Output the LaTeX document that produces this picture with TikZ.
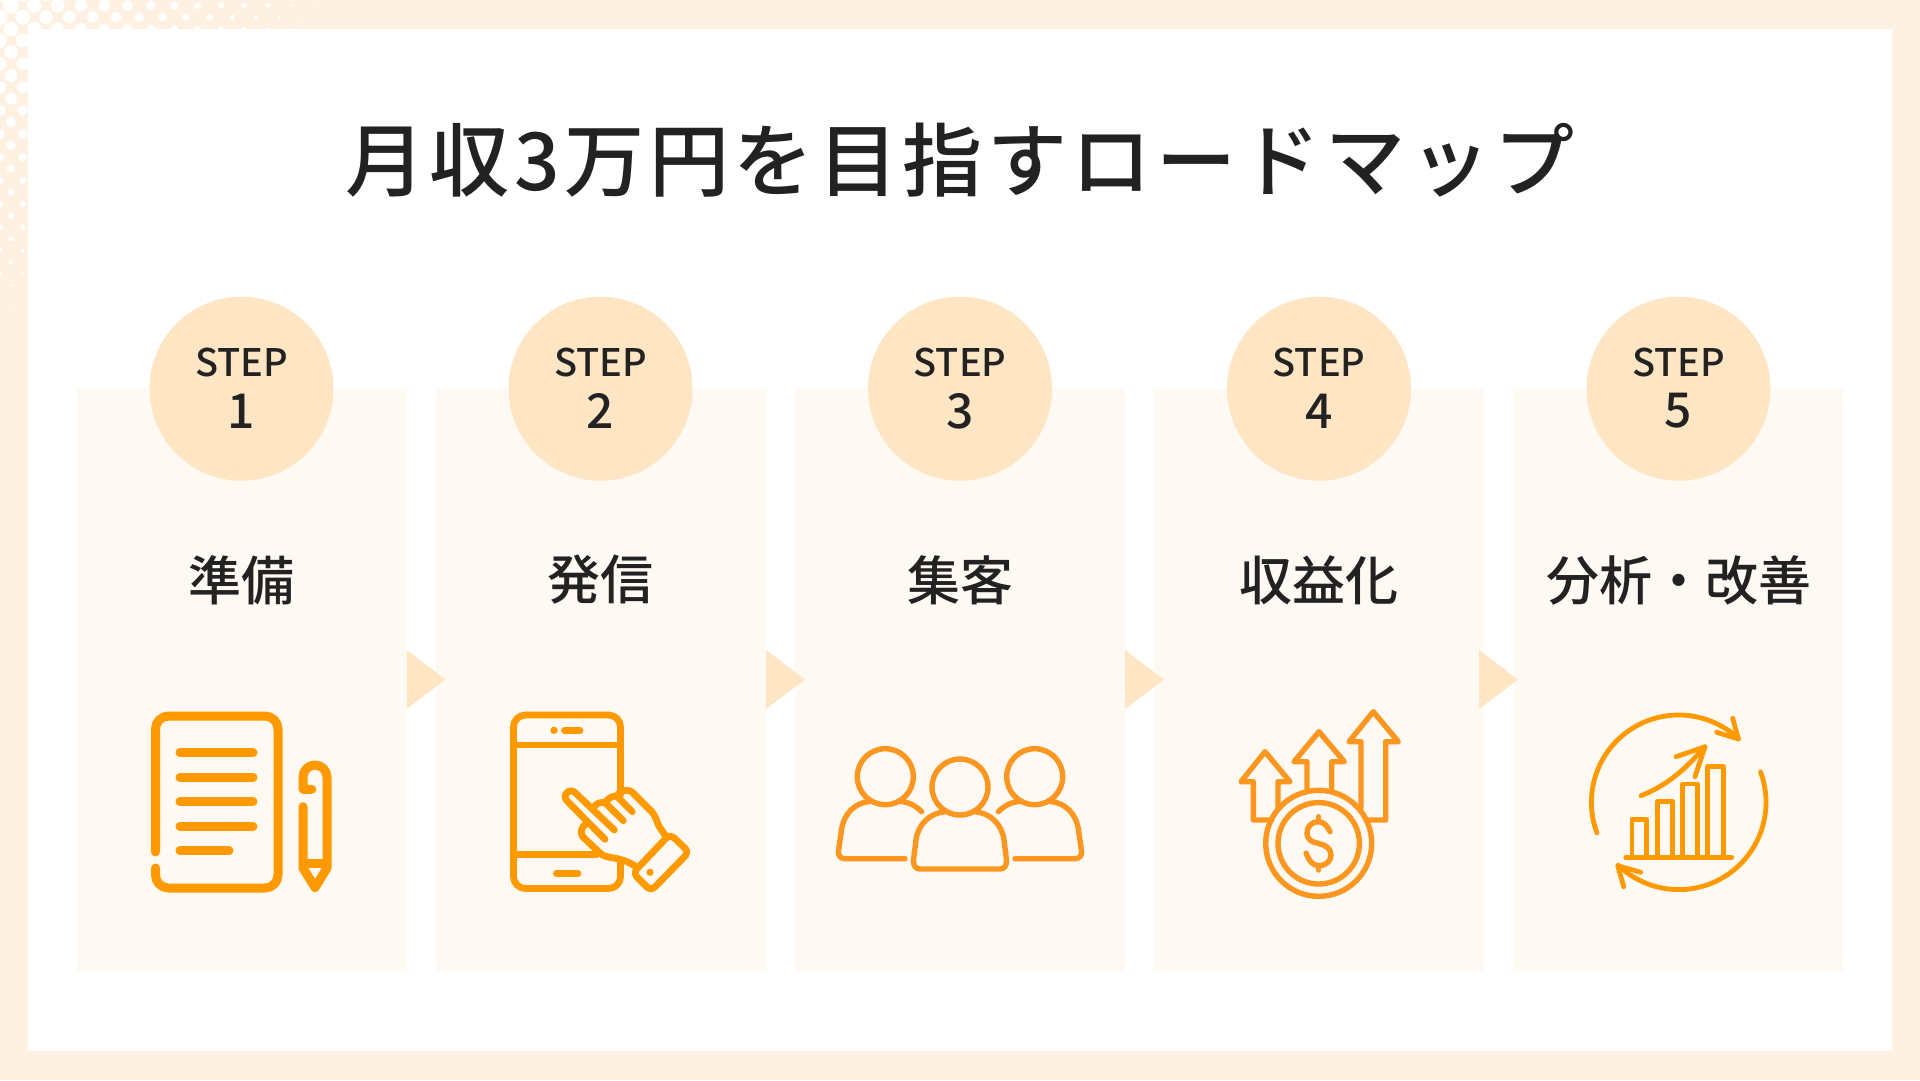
\documentclass[tikz,border=0pt]{standalone}
\usepackage{fontspec}
\newfontfamily\jpmed{Noto Sans CJK JP Medium}
\newfontfamily\jptitle[LetterSpace=5.7]{Noto Sans CJK JP Medium}
\definecolor{edgefill}{HTML}{FEF1E2}
\definecolor{panelfill}{HTML}{FFF9F3}
\definecolor{stepfill}{HTML}{FEE5C4}
\definecolor{inkdark}{HTML}{222222}
\definecolor{orangea}{HTML}{FF9900}
\definecolor{orangeb}{HTML}{FB9621}
\begin{document}
\begin{tikzpicture}[x=1pt,y=1pt,
    iconline/.style={line cap=round,line join=round},
    iconheavy/.style={iconline,orangea,line width=9pt},
    iconmid/.style={iconline,orangea,line width=6.8pt},
    iconthin/.style={iconline,orangea,line width=4.8pt},
    iconsoft/.style={iconline,orangeb,line width=5.4pt},
    steptext/.style={text=inkdark,font=\jpmed\fontsize{38}{38}\selectfont},
    stepnum/.style={text=inkdark,font=\jpmed\fontsize{48}{48}\selectfont},
    namelabel/.style={text=inkdark,font=\jpmed\fontsize{53}{53}\selectfont}]
    \tikzstyle{every node}+=[inner sep=0pt]
    \clip (0,0) rectangle (1920,-1080);
    \fill [edgefill] (0,0) rectangle (1920,-1080);
    \foreach \j in {-1,...,26} \foreach \i in {0,...,14} {
      \pgfmathsetmacro{\dotx}{11+23.33*\i-11.6*mod(\j+2,2)}
      \pgfmathsetmacro{\doty}{5.5+11.67*\j}
      \pgfmathsetmacro{\dotr}{8.4*(1-(\dotx+\doty)/360)}
      \ifdim \dotr pt>0.7pt \fill [white] (\dotx,-\doty) circle (\dotr); \fi
    }
    \fill [white] (28,-29) rectangle (1892,-1051);
    \draw (960,-160) node (title) {\jptitle\color{inkdark}\fontsize{80}{80}\selectfont 月収3万円を目指すロードマップ};

    \fill [panelfill] (77,-389) rectangle (406,-971);
    \fill [panelfill] (436,-389) rectangle (765.5,-971);
    \fill [panelfill] (795,-389) rectangle (1125,-971);
    \fill [panelfill] (1154,-389) rectangle (1484,-971);
    \fill [panelfill] (1513.5,-389) rectangle (1843,-971);
    \fill [stepfill] (406.5,-650) -- (445.5,-679.5) -- (406.5,-709) -- cycle;
    \fill [stepfill] (766,-650) -- (805,-679.5) -- (766,-709) -- cycle;
    \fill [stepfill] (1125,-650) -- (1164,-679.5) -- (1125,-709) -- cycle;
    \fill [stepfill] (1479,-650) -- (1518,-679.5) -- (1479,-709) -- cycle;

    \fill [stepfill] (241.5,-388.7) circle (92);
    \draw (241.5,-362.5) node [steptext] (stepa) {STEP};
    \draw (241.5,-411) node [stepnum] (numa) {1};
    \draw (241.5,-580) node [namelabel] (namea) {準備};
    \fill [stepfill] (600.5,-388.7) circle (92);
    \draw (600.5,-362.5) node [steptext] (stepb) {STEP};
    \draw (600.5,-411) node [stepnum] (numb) {2};
    \draw (600.5,-580) node [namelabel] (nameb) {発信};
    \fill [stepfill] (960,-388.7) circle (92);
    \draw (960,-362.5) node [steptext] (stepc) {STEP};
    \draw (960,-411) node [stepnum] (numc) {3};
    \draw (960,-580) node [namelabel] (namec) {集客};
    \fill [stepfill] (1319,-388.7) circle (92);
    \draw (1319,-362.5) node [steptext] (stepd) {STEP};
    \draw (1319,-411) node [stepnum] (numd) {4};
    \draw (1319,-580) node [namelabel] (named) {収益化};
    \fill [stepfill] (1678.5,-388.7) circle (92);
    \draw (1678.5,-362.5) node [steptext] (stepe) {STEP};
    \draw (1678.5,-411) node [stepnum] (nume) {5};
    \draw (1678.5,-580) node [namelabel] (namee) {分析・改善};

    \draw [iconheavy,rounded corners=13pt] (155.5,-852) -- (155.5,-716) -- (278,-716) -- (278,-888) -- (155.5,-888) -- (155.5,-868);
    \draw [iconheavy] (180,-752.7) -- (253,-752.7);
    \draw [iconheavy] (180,-777.3) -- (253,-777.3);
    \draw [iconheavy] (180,-801.7) -- (253,-801.7);
    \draw [iconheavy] (180,-826.3) -- (253,-826.3);
    \draw [iconheavy] (180,-850.7) -- (229,-850.7);
    \draw [iconheavy] (311.8,-789.3) -- (303,-789.3) -- (303,-777) arc (180:0:12) -- (327,-868) -- (315,-887.5) -- (303,-868) -- (303,-806.7);
    \draw [iconheavy,line cap=butt] (303,-863) -- (327,-863);

    \draw [iconmid,rounded corners=12pt] (620.5,-795) -- (620.5,-715) -- (513.5,-715) -- (513.5,-888.5) -- (620.5,-888.5) -- (620.5,-863);
    \draw [iconmid] (513.5,-745) -- (620.5,-745);
    \draw [iconmid] (513.5,-854.5) -- (597,-854.5);
    \fill [orangea] (554,-730.3) circle (3.7);
    \draw [iconmid] (564.5,-730.3) -- (580,-730.3);
    \draw [iconmid] (556.5,-873.3) -- (578,-873.3);
    \draw [iconmid] (614.3,-830) -- (575.1,-792.6) arc (45:225:5.8) -- (605,-839.3);
    \draw [iconmid] (593,-808.5) .. controls (596,-803) and (600,-802) .. (605,-802.5) -- (623.3,-820.7);
    \draw [iconmid] (605,-803) .. controls (608,-798) and (612,-796) .. (616.7,-796) -- (632.3,-811.7);
    \draw [iconmid] (616.7,-796) .. controls (619,-791) and (627,-788) .. (632.5,-792.5) -- (651.7,-811.7) .. controls (656,-816) and (657,-823) .. (659.5,-827) -- (665.7,-836);
    \draw [iconmid] (586.7,-823.3) .. controls (581,-827) and (579,-833) .. (584,-838) -- (600,-853) .. controls (607,-860) and (618,-855) .. (635,-866);
    \draw [iconmid,rounded corners=5pt] (670,-834) -- (689,-852) -- (651,-891) -- (633,-873) -- cycle;
    \fill [orangea] (650,-872.3) circle (3.6);

    \draw [iconsoft] (885.3,-776.7) circle (28);
    \draw [iconsoft] (960,-787) circle (28);
    \draw [iconsoft] (1034.7,-776.7) circle (28);
    \draw [iconsoft] (905,-858.7) -- (845,-858.7) .. controls (840,-858.7) and (838,-855) .. (838.5,-851) -- (841.5,-830) .. controls (844,-813) and (855,-803) .. (869,-801.5);
    \draw [iconsoft] (901,-801.5) .. controls (909,-802) and (916,-806) .. (921.7,-811.7);
    \draw [iconsoft] (1015,-858.7) -- (1075,-858.7) .. controls (1080,-858.7) and (1082,-855) .. (1081.5,-851) -- (1078.5,-830) .. controls (1076,-813) and (1065,-803) .. (1051,-801.5);
    \draw [iconsoft] (1019,-801.5) .. controls (1011,-802) and (1004,-806) .. (998.3,-811.7);
    \draw [iconsoft] (945,-811.7) .. controls (930,-813) and (918,-824) .. (916,-840) -- (913.5,-860) .. controls (913,-866) and (916,-869) .. (920,-869) -- (1000,-869) .. controls (1004,-869) and (1007,-866) .. (1006.5,-860) -- (1004,-840) .. controls (1002,-824) and (990,-813) .. (975,-811.7);

    \draw [iconsoft] (1318.7,-843.3) circle (53);
    \draw [iconsoft] (1318.7,-843.3) circle (40.7);
    \draw [iconsoft] (1271.7,-820) -- (1253.3,-820) -- (1253.3,-781.7) -- (1241,-781.7) -- (1265,-751.7) -- (1290,-781.7) -- (1278,-781.7) -- (1278,-809);
    \draw [iconsoft] (1307,-789) -- (1307,-761.7) -- (1294,-761.7) -- (1319,-731.7) -- (1344.3,-761.7) -- (1331.7,-761.7) -- (1331.7,-789);
    \draw [iconsoft] (1361,-808) -- (1361,-741.7) -- (1349,-741.7) -- (1373.3,-711.7) -- (1398.3,-741.7) -- (1385.7,-741.7) -- (1385.7,-820) -- (1368,-820);
    \draw [iconsoft] (1330,-831.7) .. controls (1327,-825) and (1323,-821.7) .. (1318.7,-821.7) .. controls (1311,-821.7) and (1307,-827) .. (1307,-833) .. controls (1307,-840) and (1312,-842) .. (1318.7,-843.5) .. controls (1325,-845) and (1331,-848) .. (1331,-855) .. controls (1331,-861) and (1326,-865.7) .. (1318.7,-865.7) .. controls (1313,-865.7) and (1309,-861) .. (1306,-853);
    \draw [iconsoft] (1318.7,-816.7) -- (1318.7,-821.7);
    \draw [iconsoft] (1318.7,-865.7) -- (1318.7,-870);

    \draw [iconthin] (1678.7,-802.3) ++(200.5:87.3) arc (200.5:46.7:87.3);
    \draw [iconthin] (1732.7,-718.3) -- (1738.3,-739) -- (1716.7,-732.3);
    \draw [iconthin] (1678.7,-802.3) ++(20.4:87.3) arc (20.4:-133.9:87.3);
    \draw [iconthin] (1640.7,-872.3) -- (1617.7,-865.7) -- (1623.7,-886.7);
    \draw [iconthin] (1632,-857.3) -- (1632,-819.3) -- (1646.7,-819.3) -- (1646.7,-857.3);
    \draw [iconthin] (1657.3,-857.3) -- (1657.3,-801.7) -- (1672.3,-801.7) -- (1672.3,-857.3);
    \draw [iconthin] (1682.7,-857.3) -- (1682.7,-784) -- (1697.7,-784) -- (1697.7,-857.3);
    \draw [iconthin] (1707.7,-857.3) -- (1707.7,-766.7) -- (1723.3,-766.7) -- (1723.3,-857.3);
    \draw [iconthin] (1625.7,-857.3) -- (1731.7,-857.3);
    \draw [iconthin] (1641,-795.7) .. controls (1673,-783) and (1690,-763) .. (1705,-746.7);
    \draw [iconthin] (1676,-756.7) -- (1705,-746.7) -- (1695,-776.7);
\end{tikzpicture}
\end{document}
